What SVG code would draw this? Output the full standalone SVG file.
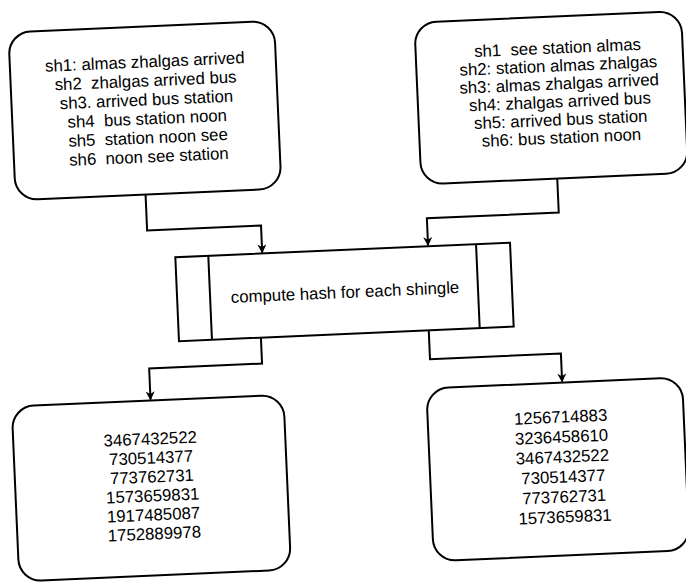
<svg xmlns="http://www.w3.org/2000/svg" width="686" height="584" viewBox="0 0 686 584">
<defs>
<style>
.box{fill:#fff;stroke:#000;stroke-width:2}
.ln{fill:none;stroke:#000;stroke-width:2}
text{font-family:"Liberation Sans",Arial,sans-serif;font-size:16.8px;fill:#000;text-anchor:middle;white-space:pre}
</style>
<marker id="ah" viewBox="0 0 10 10" refX="9" refY="5" markerWidth="9" markerHeight="9" markerUnits="userSpaceOnUse" orient="auto">
<path d="M0,0 L10,5 L0,10 L3,5 Z" fill="#000"/>
</marker>
</defs>
<rect width="686" height="584" fill="#fff"/>
<g transform="rotate(-2.5 343 292)">
<g id="connectors">
<path class="ln" d="M150,186 V222 H264 V249" marker-end="url(#ah)"/>
<path class="ln" d="M562,188 V222 H430 V249" marker-end="url(#ah)"/>
<path class="ln" d="M259,334 V360 H146 V391" marker-end="url(#ah)"/>
<path class="ln" d="M427,334 V363 H558 V391" marker-end="url(#ah)"/>
</g>
<g id="shingles1">
<rect class="box" x="20" y="18" width="266" height="168" rx="22"/>
<text x="155" y="59">sh1: almas zhalgas arrived</text>
<text x="155" y="78">sh2  zhalgas arrived bus</text>
<text x="155" y="97">sh3. arrived bus station</text>
<text x="155" y="116">sh4  bus station noon</text>
<text x="155" y="135">sh5  station noon see</text>
<text x="155" y="154">sh6  noon see station</text>
</g>
<g id="shingles2">
<rect class="box" x="426" y="26" width="267" height="162" rx="22"/>
<text x="568" y="63">sh1  see station almas</text>
<text x="568" y="81">sh2: station almas zhalgas</text>
<text x="568" y="99">sh3: almas zhalgas arrived</text>
<text x="568" y="117">sh4: zhalgas arrived bus</text>
<text x="568" y="135">sh5: arrived bus station</text>
<text x="568" y="153">sh6: bus station noon</text>
</g>
<g id="hash">
<rect class="box" x="177" y="250" width="335" height="84"/>
<line class="ln" x1="210" y1="250" x2="210" y2="334"/>
<line class="ln" x1="478" y1="250" x2="478" y2="334"/>
<text x="345" y="298">compute hash for each shingle</text>
</g>
<g id="hashes1">
<rect class="box" x="7" y="392" width="272" height="175" rx="22"/>
<text x="144" y="436">3467432522</text>
<text x="144" y="455">730514377</text>
<text x="144" y="474">773762731</text>
<text x="144" y="493">1573659831</text>
<text x="144" y="512">1917485087</text>
<text x="144" y="531">1752889978</text>
</g>
<g id="hashes2">
<rect class="box" x="422" y="392" width="256" height="173" rx="22"/>
<text x="555" y="432">1256714883</text>
<text x="555" y="452">3236458610</text>
<text x="555" y="472">3467432522</text>
<text x="555" y="492">730514377</text>
<text x="555" y="512">773762731</text>
<text x="555" y="532">1573659831</text>
</g>
</g>
</svg>
